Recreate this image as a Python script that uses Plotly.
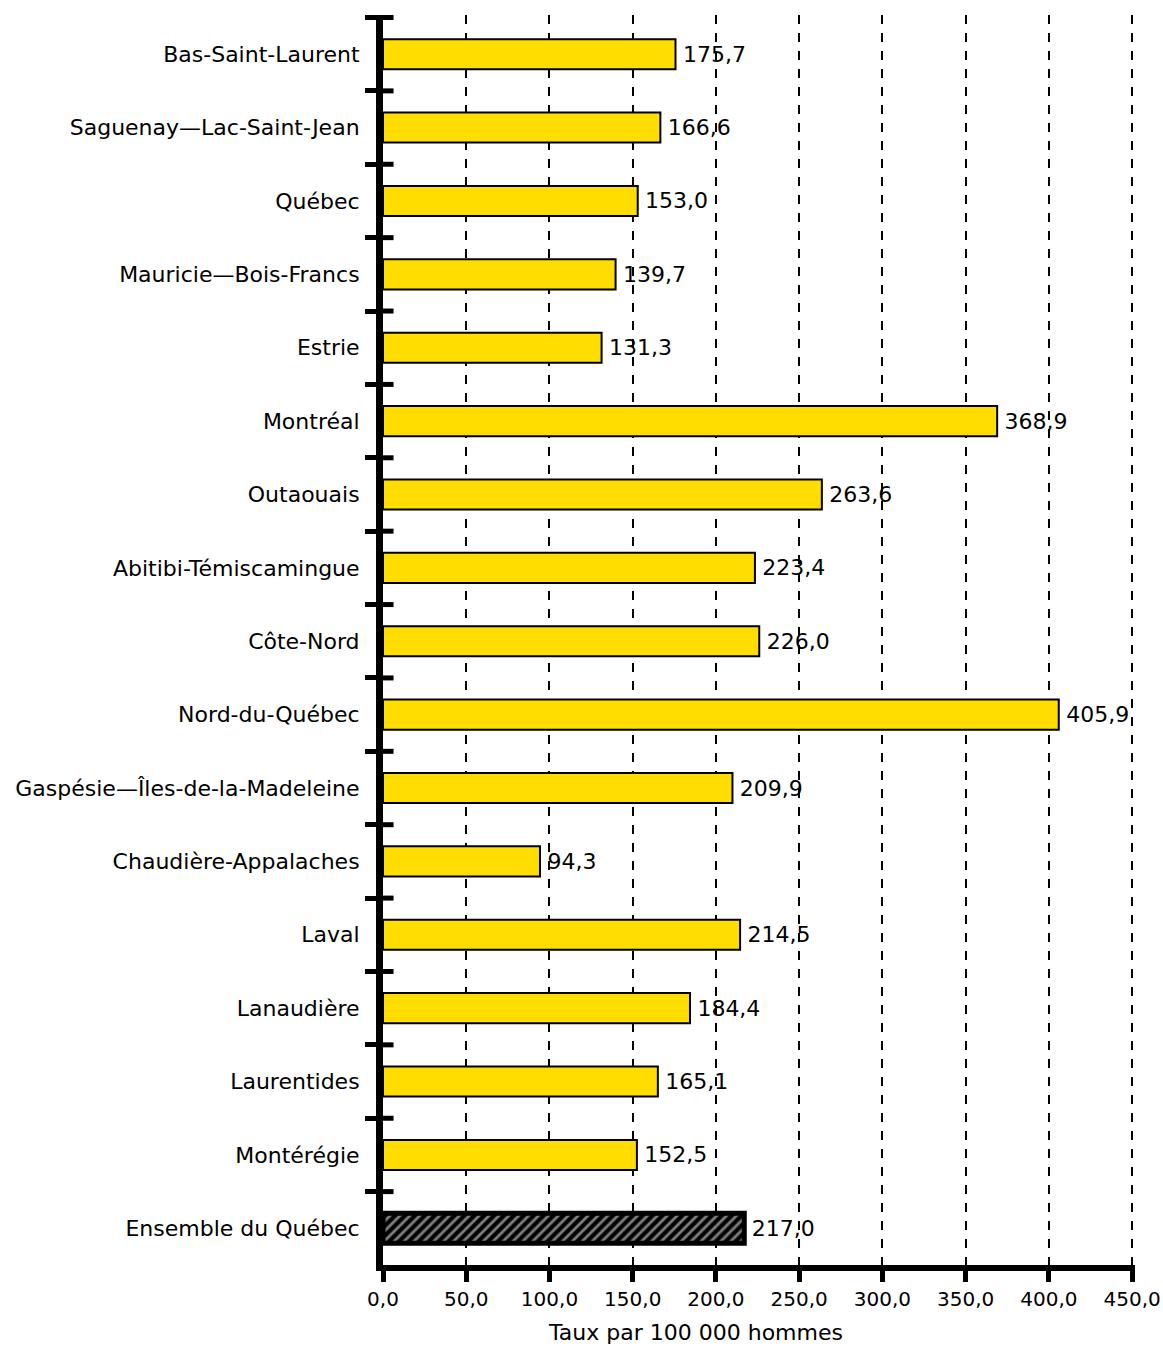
import plotly.graph_objects as go

regions = [
    "Bas-Saint-Laurent", "Saguenay—Lac-Saint-Jean", "Québec", "Mauricie—Bois-Francs",
    "Estrie", "Montréal", "Outaouais", "Abitibi-Témiscamingue", "Côte-Nord",
    "Nord-du-Québec", "Gaspésie—Îles-de-la-Madeleine", "Chaudière-Appalaches",
    "Laval", "Lanaudière", "Laurentides", "Montérégie", "Ensemble du Québec",
]
rates = [175.7, 166.6, 153.0, 139.7, 131.3, 368.9, 263.6, 223.4, 226.0,
         405.9, 209.9, 94.3, 214.5, 184.4, 165.1, 152.5, 217.0]
x_ticks = [0, 50, 100, 150, 200, 250, 300, 350, 400, 450]
x_title = "Taux par 100 000 hommes"

YELLOW = "#FFDD00"
FONT = "DejaVu Sans"
FS = 22
n = len(regions)
is_total = [r == "Ensemble du Québec" for r in regions]

fig = go.Figure()
fig.add_trace(go.Bar(
    y=regions, x=rates, orientation="h", width=0.41,
    marker=dict(
        color=["black" if t else YELLOW for t in is_total],
        line=dict(color="black", width=[5 if t else 2 for t in is_total]),
        pattern=dict(
            shape=["/" if t else "" for t in is_total],
            fgcolor="white", bgcolor="black", size=7, solidity=0.4,
        ),
    ),
    texttemplate="\u2009%{x:.1f}", textposition="outside", constraintext="none",
    textfont=dict(family=FONT, size=FS, color="black"), cliponaxis=False,
    hoverinfo="skip",
))

# inner part of the category separator ticks
for i in range(n):
    fig.add_shape(type="line", xref="paper", yref="y", x0=0, x1=0.014,
                  y0=i - 0.5, y1=i - 0.5, line=dict(color="black", width=5))

fig.add_annotation(text=x_title, xref="paper", yref="paper", x=0.415, y=-0.054,
                   showarrow=False, xanchor="center", yanchor="middle",
                   font=dict(family=FONT, size=FS, color="black"))

fig.update_layout(
    width=1163, height=1349,
    margin=dict(l=383, r=28, t=15, b=84),
    paper_bgcolor="white", plot_bgcolor="white",
    separators=", ", showlegend=False,
    font=dict(family=FONT, size=FS, color="black"),
)
fig.update_xaxes(
    range=[0, 451.7], tickvals=x_ticks, tickformat=".1f",
    showgrid=True, gridcolor="black", gridwidth=1.5, griddash="9px,9px",
    zeroline=False, showline=True, linecolor="black", linewidth=6,
    ticks="outside", ticklen=11, tickwidth=5, tickcolor="black",
    ticklabeloverflow="allow", automargin=False,
    tickfont=dict(family=FONT, size=20, color="black"),
)
fig.update_yaxes(
    type="category", autorange="reversed", tickson="boundaries",
    showgrid=False, zeroline=False, showline=True, linecolor="black", linewidth=7,
    ticks="outside", ticklen=11, tickwidth=5, tickcolor="black",
    ticklabelstandoff=12, automargin=False,
    tickfont=dict(family=FONT, size=FS, color="black"),
)

# remove the default page margin so the figure fills the window exactly
fig.write_html("out.html", config={"displayModeBar": False},
               post_script="document.body.style.margin='0';document.body.style.overflow='hidden';")
